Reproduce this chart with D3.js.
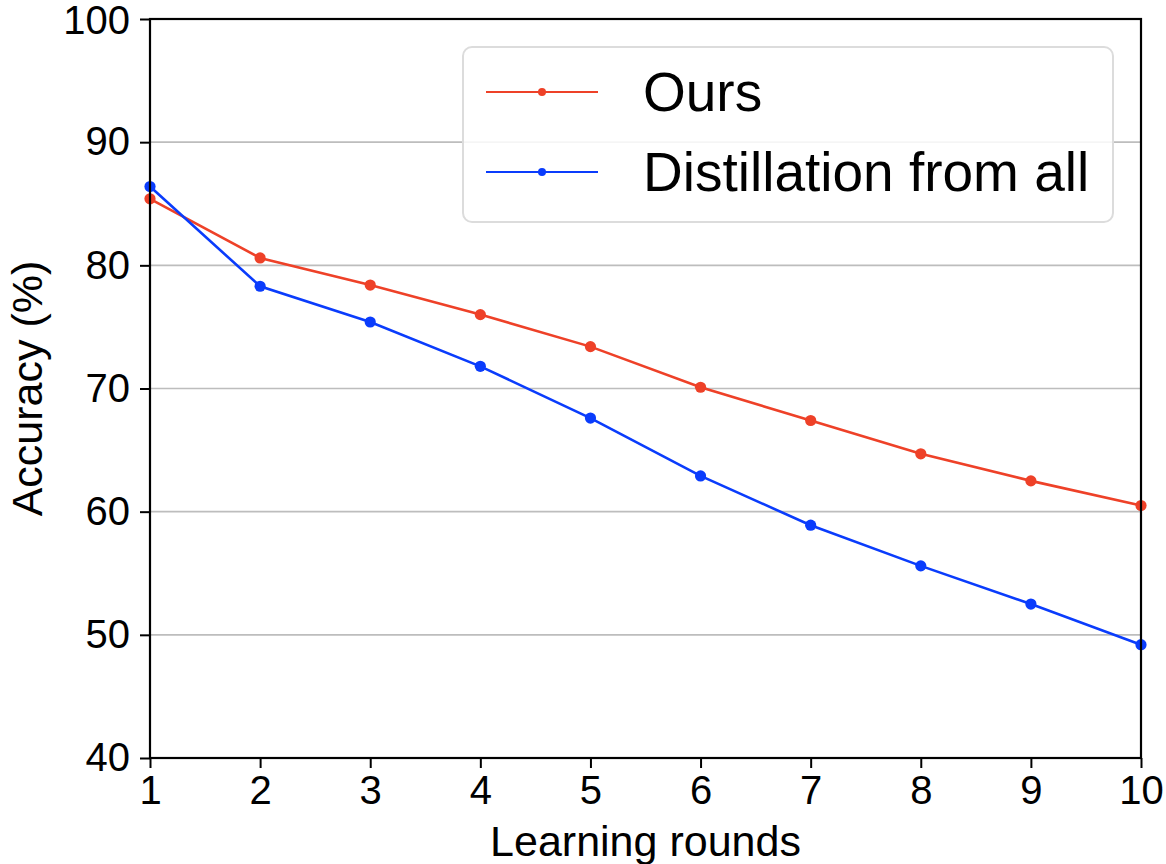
<!DOCTYPE html>
<html>
<head>
<meta charset="utf-8">
<script src="https://cdn.jsdelivr.net/npm/d3@7"></script>
<style>
  body { margin: 0; background: #fff; }
  text { font-family: "Liberation Sans", Arial, sans-serif; }
</style>
</head>
<body>
<div id="wrapper"></div>
<script>
// data
const rounds = [1, 2, 3, 4, 5, 6, 7, 8, 9, 10]
const ours = [85.4, 80.6, 78.4, 76.0, 73.4, 70.1, 67.4, 64.7, 62.5, 60.5]
const distillAll = [86.4, 78.3, 75.4, 71.8, 67.6, 62.9, 58.9, 55.6, 52.5, 49.2]
const yTicks = [40, 50, 60, 70, 80, 90, 100]
const seriesNames = ["Ours", "Distillation from all"]

function drawChart() {
  let dimensions = {
    width: 1166,
    height: 864,
    margin: { top: 19, right: 25, bottom: 106, left: 150 },
  }
  dimensions.boundedWidth = dimensions.width
    - dimensions.margin.left - dimensions.margin.right
  dimensions.boundedHeight = dimensions.height
    - dimensions.margin.top - dimensions.margin.bottom

  const colors = ["#ee4128", "#0a3cfc"]

  const wrapper = d3.select("#wrapper")
    .append("svg")
      .attr("width", dimensions.width)
      .attr("height", dimensions.height)

  const bounds = wrapper.append("g")
      .attr("transform", `translate(${dimensions.margin.left},${dimensions.margin.top})`)

  const xScale = d3.scaleLinear()
      .domain([1, 10])
      .range([0, dimensions.boundedWidth])
  const yScale = d3.scaleLinear()
      .domain([40, 100])
      .range([dimensions.boundedHeight, 0])

  // horizontal grid
  bounds.append("g")
    .selectAll("line")
    .data(yTicks.slice(1, -1))
    .join("line")
      .attr("x1", 0)
      .attr("x2", dimensions.boundedWidth)
      .attr("y1", d => yScale(d))
      .attr("y2", d => yScale(d))
      .attr("stroke", "#bdbdbd")
      .attr("stroke-width", 1.6)

  // lines + markers
  const series = [ours, distillAll]
  const lineGen = d3.line()
      .x((d, i) => xScale(rounds[i]))
      .y(d => yScale(d))

  series.forEach((values, si) => {
    bounds.append("path")
        .datum(values)
        .attr("d", lineGen)
        .attr("fill", "none")
        .attr("stroke", colors[si])
        .attr("stroke-width", 2.6)
    bounds.append("g")
      .selectAll("circle")
      .data(values)
      .join("circle")
        .attr("cx", (d, i) => xScale(rounds[i]))
        .attr("cy", d => yScale(d))
        .attr("r", 5.6)
        .attr("fill", colors[si])
  })

  // axes
  const xAxis = bounds.append("g")
      .attr("transform", `translate(0,${dimensions.boundedHeight})`)
      .call(d3.axisBottom(xScale).tickValues(rounds).tickSize(10).tickPadding(8).tickFormat(d3.format("d")))
  const yAxis = bounds.append("g")
      .call(d3.axisLeft(yScale).tickValues(yTicks).tickSize(10).tickPadding(10))

  ;[xAxis, yAxis].forEach(ax => {
    ax.select(".domain").remove()
    ax.selectAll(".tick line").attr("stroke", "#000").attr("stroke-width", 2)
    ax.selectAll(".tick text")
      .attr("fill", "#000")
      .style("font-size", "40px")
      .style("font-family", "'Liberation Sans', Arial, sans-serif")
  })
  // keep the top label inside the page
  yAxis.selectAll(".tick text").filter(d => d === 100).attr("dy", "0.36em")

  // frame
  bounds.append("rect")
      .attr("width", dimensions.boundedWidth)
      .attr("height", dimensions.boundedHeight)
      .attr("fill", "none")
      .attr("stroke", "#000")
      .attr("stroke-width", 2.2)

  // axis labels
  bounds.append("text")
      .attr("x", dimensions.boundedWidth / 2)
      .attr("y", dimensions.boundedHeight + 98)
      .attr("text-anchor", "middle")
      .style("font-size", "43px")
      .text("Learning rounds")
  bounds.append("text")
      .attr("transform", `translate(${-108},${dimensions.boundedHeight / 2}) rotate(-90)`)
      .attr("text-anchor", "middle")
      .style("font-size", "43px")
      .text("Accuracy (%)")

  // legend
  const legend = wrapper.append("g")
      .attr("transform", "translate(463,47)")
  legend.append("rect")
      .attr("width", 650)
      .attr("height", 175)
      .attr("rx", 9)
      .attr("fill", "rgba(255,255,255,0.85)")
      .attr("stroke", "#dcdcdc")
      .attr("stroke-width", 2)
  seriesNames.forEach((name, i) => {
    const row = legend.append("g")
        .attr("transform", `translate(0,${45 + i * 80})`)
    row.append("line")
        .attr("x1", 23).attr("x2", 135)
        .attr("stroke", colors[i])
        .attr("stroke-width", 2.2)
    row.append("circle")
        .attr("cx", 79)
        .attr("r", 4)
        .attr("fill", colors[i])
    row.append("text")
        .attr("x", 180)
        .attr("y", 19)
        .style("font-size", "55px")
        .text(name)
  })
}
drawChart()
</script>
</body>
</html>
